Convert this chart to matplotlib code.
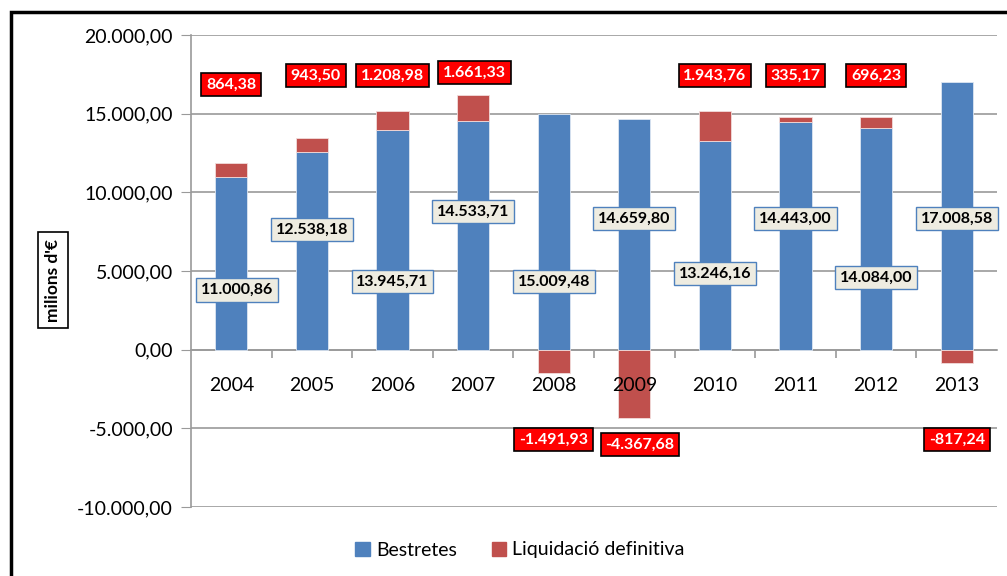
import numpy as np
import matplotlib.pyplot as plt
from matplotlib.patches import Rectangle, Patch

plt.rcParams['font.family'] = ['Lato', 'DejaVu Sans']

years = ['2004', '2005', '2006', '2007', '2008', '2009', '2010', '2011', '2012', '2013']
bestretes = [11000.86, 12538.18, 13945.71, 14533.71, 15009.48, 14659.80, 13246.16, 14443.00, 14084.00, 17008.58]
liquidacio = [864.38, 943.50, 1208.98, 1661.33, -1491.93, -4367.68, 1943.76, 335.17, 696.23, -817.24]

# where the data labels sit (hand placed in the original)
blue_label_y = [3810, 7630, 4320, 8770, 4320, 8330, 4830, 8330, 4580, 8330]
red_label_y = [16850, 17420, 17420, 17610, -5720, -6040, 17420, 17420, 17420, -5720]
red_label_dx = [0, 0.05, 0, 0.02, 0, 0.07, 0, 0, 0, 0]

BLUE = '#4F81BD'
RED = '#C0504D'


def fmt(v):
    s = f'{abs(v):,.2f}'.replace(',', 'X').replace('.', ',').replace('X', '.')
    return ('-' if v < 0 else '') + s


fig = plt.figure(figsize=(10.07, 5.76), dpi=100)
ax = fig.add_axes([191 / 1007, 1 - 507 / 576, 806 / 1007, 472 / 576])

x = np.arange(len(years))
w = 0.4
ax.bar(x, bestretes, w, color=BLUE, edgecolor='#dce6f2', linewidth=0.6, zorder=3)
red_bottom = [b if l > 0 else 0 for b, l in zip(bestretes, liquidacio)]
ax.bar(x, liquidacio, w, bottom=red_bottom, color=RED, edgecolor='#f2dcdb',
       linewidth=0.6, zorder=3)

ax.set_axisbelow(True)
ax.set_xlim(-0.5, len(years) - 0.5)
ax.set_ylim(-10000, 20000)
ax.set_yticks(np.arange(-10000, 20001, 5000))
ax.set_yticklabels([fmt(v) for v in np.arange(-10000, 20001, 5000)], fontsize=14)
ax.yaxis.grid(True, color='#9a9a9a', linewidth=1.2)
ax.tick_params(axis='y', length=7, color='#9a9a9a', pad=6)

ax.spines['bottom'].set_position(('data', 0))
ax.spines['bottom'].set_color('#9a9a9a')
ax.spines['bottom'].set_linewidth(1.2)
ax.spines['left'].set_color('#9a9a9a')
ax.spines['left'].set_linewidth(1.2)
ax.spines['top'].set_visible(False)
ax.spines['right'].set_visible(False)

ax.set_xticks(x)
ax.set_xticklabels(years, fontsize=14)
ax.set_xticks(np.arange(0.5, len(years) - 0.5, 1), minor=True)
ax.tick_params(axis='x', which='major', length=0, pad=20)
ax.tick_params(axis='x', which='minor', length=6, color='#9a9a9a', width=1.2)
ax.xaxis.set_zorder(4)

for i in range(len(years)):
    ax.text(i + (0.07 if i == 0 else 0), blue_label_y[i], fmt(bestretes[i]),
            ha='center', va='center', fontsize=11.5, fontweight='bold', color='black', zorder=5,
            bbox=dict(boxstyle='square,pad=0.3', facecolor='#EEECE1', edgecolor=BLUE, linewidth=1))
    ax.text(i + red_label_dx[i], red_label_y[i], fmt(liquidacio[i]),
            ha='center', va='center', fontsize=11.5, fontweight='bold', color='white', zorder=5,
            bbox=dict(boxstyle='square,pad=0.3', facecolor='#FF0000', edgecolor='black', linewidth=1.2))

fig.text(53 / 1007, 1 - 280 / 576, "milions d'€", rotation=90, ha='center', va='center',
         fontsize=12.5, fontweight='bold',
         bbox=dict(boxstyle='square,pad=0.4', facecolor='white', edgecolor='black', linewidth=1.2))

handles = [Patch(color=BLUE, label='Bestretes'), Patch(color=RED, label='Liquidació definitiva')]
fig.legend(handles=handles, loc='center', bbox_to_anchor=(520 / 1007, 1 - 550 / 576), ncol=2,
           frameon=False, fontsize=14, handlelength=0.75, handleheight=0.75, columnspacing=1.8,
           handletextpad=0.3)

fig.patches.append(Rectangle((11 / 1007, -0.2), 2, 1.2 - 12 / 576, transform=fig.transFigure,
                             fill=False, edgecolor='black', linewidth=2.5, linestyle='-'))

fig.savefig('out.png', dpi=100)
